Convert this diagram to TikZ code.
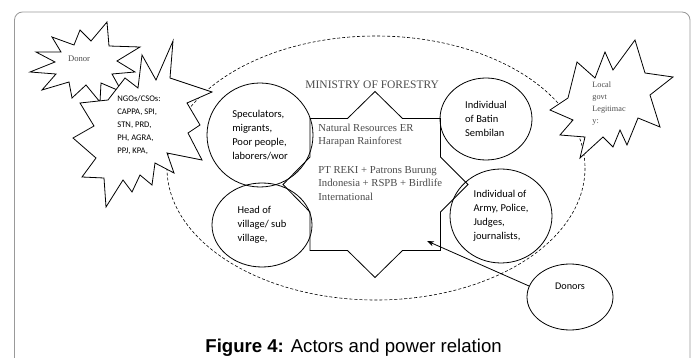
\documentclass[tikz,border=0pt]{standalone}
\usepackage{fontspec}
\setmainfont{Liberation Serif}
\newfontfamily\calibrifont{Carlito}
\newfontfamily\arialfont{Liberation Sans}
\usetikzlibrary{shapes.geometric,arrows.meta}

\begin{document}
\begin{tikzpicture}[x=1pt,y=-1pt,line width=0.8pt,
  actor/.style={draw,ellipse,inner sep=0pt,align=left,font=\calibrifont\fontsize{10.5}{14}\selectfont},
  burst/.style={draw,fill=white,line join=miter},
  greytext/.style={text=black!70,inner sep=0pt}]
\useasboundingbox (0,0) rectangle (697,358);
\clip (0,0) rectangle (697,358);
\fill[white] (0,0) rectangle (697,358);
\draw[black!40,rounded corners=8pt] (14.5,12) rectangle (690,420);
% scope of the forest
\draw[dashed,dash pattern=on 3pt off 2pt,line width=0.6pt] (376,168) ellipse [x radius=209,y radius=132];
% Ministry of Forestry
\draw[burst] (310,118.5) -- (347.5,118.5) -- (375,91.5) -- (402.5,118.5) -- (440.5,118.5)
  -- (440.5,157) -- (468,184.5) -- (440.5,212) -- (440.5,250.5) -- (402.5,250.5)
  -- (375,277.5) -- (347.5,250.5) -- (310,250.5) -- (310,212) -- (283,184.5) -- (310,157) -- cycle;
\node[greytext,anchor=west,font=\fontsize{11.5}{13}\selectfont] (ministry) at (305,85) {MINISTRY OF FORESTRY};
\node[greytext,anchor=north west,align=left,font=\fontsize{10.7}{13.5}\selectfont] (reki) at (318,123.5)
  {Natural Resources ER\\Harapan Rainforest\\[14.8pt]PT REKI + Patrons Burung\\Indonesia + RSPB + Birdlife\\International};
% outside pressure
\draw[burst] (52,37) -- (74,45) -- (80,30) -- (91,41) -- (107,22) -- (109,46) -- (140,47) -- (117,61)
  -- (135,72) -- (112,74) -- (122,92) -- (101,83) -- (100,102) -- (86,85) -- (72,98) -- (69,82)
  -- (42,90) -- (56,74) -- (30,72) -- (55,62) -- (36,52) -- (61,52) -- cycle;
\node[greytext,anchor=west,font=\fontsize{8.6}{10}\selectfont] (donor) at (67.7,58.3) {Donor};
\draw[burst] (173,41) -- (170,78) -- (212,92) -- (187,103) -- (200,125) -- (188,133) -- (202,160)
  -- (167,153) -- (174,173) -- (155,163) -- (152,185) -- (140,175) -- (132,192) -- (123,180)
  -- (106,207) -- (104,178) -- (82,177) -- (96,158) -- (73,138) -- (94,126) -- (80,103)
  -- (108,100) -- (125,78) -- (138,88) -- (142,55) -- (156,80) -- cycle;
\node[inner sep=0pt,anchor=north west,align=left,font=\calibrifont\fontsize{8.6}{13}\selectfont] (ngos) at (117,95.5)
  {NGOs/CSOs:\\CAPPA, SPI,\\STN, PRD,\\PH, AGRA,\\PPJ, KPA,};
\draw[burst] (635,40) -- (645,73) -- (673,77) -- (650,95) -- (660,127) -- (638,118) -- (627,145)
  -- (620,130) -- (613,147) -- (603,137) -- (580,158) -- (585,137) -- (560,135) -- (573,120)
  -- (550,110) -- (568,98) -- (577,62) -- (595,78) -- (605,52) -- (613,70) -- cycle;
\node[greytext,anchor=north west,align=left,font=\fontsize{8.2}{12}\selectfont] (localgovt) at (592,81.5)
  {Local\\govt\\Legitimac\\y:};
% actors inside
\node[actor,minimum width=106,minimum height=104] (speculators) at (260,135)
  {Speculators,\\migrants,\\Poor people,\\laborers/wor};
\node[actor,minimum width=100,minimum height=84] (headvillage) at (262,225)
  {Head of\\village/ sub\\village,};
\node[actor,minimum width=92,minimum height=82] (batin) at (486,119)
  {Individual\\of Batin\\Sembilan};
\node[actor,minimum width=102,minimum height=94] (army) at (501,216)
  {Individual of\\Army, Police,\\Judges,\\journalists,};
\node[draw,ellipse,minimum width=86,minimum height=66] (donors) at (570,297) {};
\node[inner sep=0pt,font=\calibrifont\fontsize{10.2}{12}\selectfont] (donorslabel) at ([yshift=11pt]donors.center) {Donors};
\coordinate (reach) at (427,241);
\draw[-{Stealth[length=7pt,width=5pt]}] (donors.165) -- (reach);
% caption
\node[anchor=base west,inner sep=0pt,font=\arialfont\fontsize{18.6}{22}\selectfont] (caption) at (205,352.5)
  {\textbf{Figure 4:} Actors and power relation};
\end{tikzpicture}
\end{document}
